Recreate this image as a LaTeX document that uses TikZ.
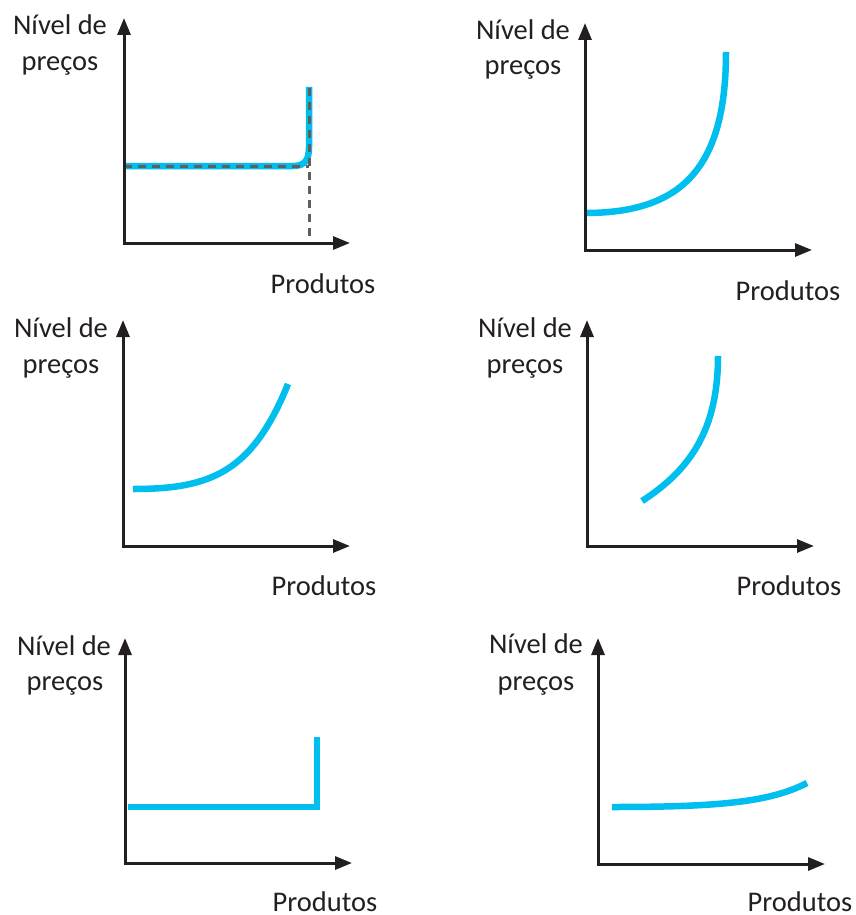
\documentclass[tikz,border=0pt]{standalone}
\usepackage{fontspec}
\setmainfont{Carlito}
\usetikzlibrary{arrows.meta}
\definecolor{curveblue}{RGB}{0,191,238}
\definecolor{inkdark}{RGB}{35,31,32}
\definecolor{dashgray}{RGB}{95,95,95}
\begin{document}
\begin{tikzpicture}[x=1pt,y=-1pt,
  axis/.style={draw=inkdark,line width=3pt,{Triangle[length=17pt,width=13pt]}-{Triangle[length=17pt,width=13pt]}},
  curve/.style={draw=curveblue,line width=6.5pt},
  guide/.style={draw=dashgray,line width=3pt,dash pattern=on 8pt off 6pt},
  lbl/.style={anchor=base,inner sep=0pt,text=inkdark,font=\fontsize{28.5}{34}\selectfont}]
\useasboundingbox (0,0) rectangle (855,915);

% Panel 1
\coordinate (a1t) at (124,18); \coordinate (a1o) at (124,243); \coordinate (a1r) at (350,243);
\draw[curve] (124,166) -- (293,166) .. controls (305,166) and (309,160) .. (309,147) -- (309,87);
\draw[guide] (124,166) -- (309,166);
\draw[guide] (309,88) -- (309,243);
\draw[axis] (a1t) -- (a1o) -- (a1r);
\node[lbl] (n1a) at (60,35) {Nível de};
\node[lbl] (n1b) at (60,71) {preços};
\node[lbl] (n1c) at (323,293) {Produtos};

% Panel 2
\coordinate (a2t) at (585,23); \coordinate (a2o) at (585,250); \coordinate (a2r) at (812,250);
\draw[curve] (585,213) .. controls (680,213) and (726,170) .. (726,52);
\draw[axis] (a2t) -- (a2o) -- (a2r);
\node[lbl] (n2a) at (523,40) {Nível de};
\node[lbl] (n2b) at (523,75) {preços};
\node[lbl] (n2c) at (788,300) {Produtos};

% Panel 3
\coordinate (a3t) at (123,320); \coordinate (a3o) at (123,546); \coordinate (a3r) at (350,546);
\draw[curve] (133,489) .. controls (210,489) and (252,473) .. (288,384);
\draw[axis] (a3t) -- (a3o) -- (a3r);
\node[lbl] (n3a) at (61,337) {Nível de};
\node[lbl] (n3b) at (61,373) {preços};
\node[lbl] (n3c) at (324,595) {Produtos};

% Panel 4
\coordinate (a4t) at (587,320); \coordinate (a4o) at (587,546); \coordinate (a4r) at (814,546);
\draw[curve] (642,501) .. controls (690,470) and (718,430) .. (718,356);
\draw[axis] (a4t) -- (a4o) -- (a4r);
\node[lbl] (n4a) at (525,337) {Nível de};
\node[lbl] (n4b) at (525,373) {preços};
\node[lbl] (n4c) at (789,595) {Produtos};

% Panel 5
\coordinate (a5t) at (125,638); \coordinate (a5o) at (125,863); \coordinate (a5r) at (352,863);
\draw[curve] (128,807) -- (317,807) -- (317,737);
\draw[axis] (a5t) -- (a5o) -- (a5r);
\node[lbl] (n5a) at (64,655) {Nível de};
\node[lbl] (n5b) at (65,690) {preços};
\node[lbl] (n5c) at (325,911) {Produtos};

% Panel 6
\coordinate (a6t) at (598,638); \coordinate (a6o) at (598,864); \coordinate (a6r) at (825,864);
\draw[curve] (612,807) .. controls (720,807) and (770,802) .. (807,783);
\draw[axis] (a6t) -- (a6o) -- (a6r);
\node[lbl] (n6a) at (536,653) {Nível de};
\node[lbl] (n6b) at (536,690) {preços};
\node[lbl] (n6c) at (800,911) {Produtos};
\end{tikzpicture}
\end{document}
